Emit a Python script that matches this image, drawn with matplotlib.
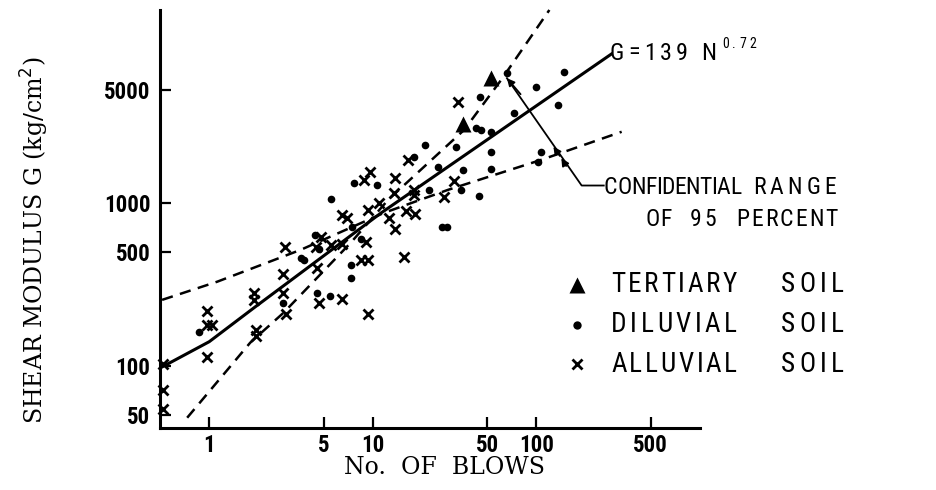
import matplotlib
matplotlib.use("Agg")
import matplotlib.pyplot as plt
from matplotlib import font_manager
from matplotlib.lines import Line2D
from matplotlib.ticker import NullLocator

# values (N = blow count, G in kg/cm2)
tert_n = [35.5, 53.0]
tert_g = [3090, 5900]

dil_n = [0.86, 2.83, 4.41, 4.66, 3.62, 3.79, 8.44, 7.33, 7.33, 4.58, 5.45, 5.52, 7.68,
         10.6, 7.51, 17.9, 20.8, 24.9, 32.3, 35.5, 22.1, 34.7, 26.5, 28.4, 44.3, 44.9,
         42.9, 46.0, 53.0, 52.4, 52.4, 66.4, 100, 148, 73.0, 135, 107, 102]
dil_g = [161, 245, 641, 523, 460, 450, 603, 419, 350, 283, 270, 1063, 1333,
         1297, 721, 1927, 2294, 1687, 2239, 1611, 1212, 1212, 718, 718, 1114, 4550,
         2904, 2838, 2770, 2085, 1626, 6340, 5240, 6430, 3620, 4045, 2085, 1786]

all_n = [0.52, 0.52, 0.52, 0.97, 0.97, 1.04, 0.97, 1.87, 1.89, 1.92, 1.94, 2.90, 2.83,
         2.83, 2.93, 4.80, 4.47, 5.52, 6.52, 9.06, 4.58, 8.44, 9.28, 4.68, 6.52, 9.28,
         15.4, 13.7, 15.9, 18.1, 12.6, 10.9, 9.32, 6.52, 6.93, 9.62, 8.85, 13.7, 13.5,
         16.3, 17.9, 17.9, 27.4, 31.3, 33.1]
all_g = [103, 71, 54, 218, 179, 179, 113, 283, 255, 167, 153, 543, 367,
         283, 209, 621, 543, 556, 562, 583, 400, 450, 450, 244, 258, 209,
         468, 695, 900, 863, 812, 1004, 913, 851, 812, 1564, 1397, 1432, 1157,
         1854, 1212, 1130, 1102, 1377, 4236]

# fitted curve G = 139 N^0.72 as drawn
fit_n = [0.5, 1.0, 1.9, 3.2, 11.2, 292]
fit_g = [97, 141, 230, 340, 872, 8400]

# 95 % confidence lines
flat_n = [0.515, 1.12, 3.62, 11.7, 28.8, 107, 332]
flat_g = [255, 330, 518, 875, 1212, 1854, 2760]
steep_n = [0.733, 1.78, 2.84, 7.33, 12.4, 36.2, 61, 120]
steep_g = [48, 139, 212, 573, 1052, 2838, 5770, 15500]

x_ticks = [1, 5, 10, 50, 100, 500]
y_ticks = [50, 100, 500, 1000, 5000]

have = {f.name for f in font_manager.fontManager.ttflist}
cond = next(f for f in ['Roboto Condensed', 'Liberation Sans Narrow', 'DejaVu Sans Condensed',
                        'Liberation Sans', 'DejaVu Sans'] if f in have)
serif = 'DejaVu Serif'

W, H = 937, 490
fig = plt.figure(figsize=(W / 100, H / 100), dpi=100)
ax = fig.add_axes([160 / W, 1 - 428 / H, 540 / W, 418 / H])
rend = fig.canvas.get_renderer()

def fx(px):
    return px / W

def fy(py):
    return 1 - py / H

def spread(s, x0, x1, y, size):
    # letter-spaced lettering running from pixel x0 to x1
    if len(s) == 1:
        fig.text(fx((x0 + x1) / 2), fy(y), s, family=cond, size=size, ha='center', va='center')
        return
    ts = [fig.text(0, fy(y), c, family=cond, size=size, ha='left', va='center') for c in s]
    ws = [t.get_window_extent(rend).width for t in ts]
    gap = (x1 - x0 - sum(ws)) / (len(s) - 1)
    x = x0
    for t, w in zip(ts, ws):
        t.set_x(fx(x))
        x += w + gap

ax.plot(fit_n, fit_g, color='black', lw=2.2, solid_capstyle='butt')
ax.plot(flat_n, flat_g, color='black', lw=1.8, dashes=(4.5, 3))
ax.plot(steep_n, steep_g, color='black', lw=1.8, dashes=(4.5, 3), clip_on=False)

ax.plot(dil_n, dil_g, 'o', color='black', ms=5.5, mec='none', clip_on=False)
ax.plot(all_n, all_g, 'x', color='black', ms=6.5, mew=2, clip_on=False)
ax.plot(tert_n, tert_g, '^', color='black', ms=12, mec='none', clip_on=False)

ax.set_xscale('log')
ax.set_yscale('log')
ax.set_xlim(0.5, 1000)
ax.set_ylim(41.5, 15500)
ax.set_xticks(x_ticks, labels=[str(t) for t in x_ticks])
ax.set_yticks(y_ticks, labels=[str(t) for t in y_ticks])
ax.xaxis.set_minor_locator(NullLocator())
ax.yaxis.set_minor_locator(NullLocator())
ax.tick_params(direction='in', length=8, width=1.6, pad=7, labelsize=16.5)
ax.tick_params(axis='x', pad=4)
for lab in ax.get_xticklabels() + ax.get_yticklabels():
    lab.set_family(cond)
    lab.set_weight('bold')
for s in ['top', 'right']:
    ax.spines[s].set_visible(False)
ax.spines['left'].set_linewidth(2.2)
ax.spines['bottom'].set_linewidth(2.2)
ax.patch.set_alpha(0)

# arrow to the confidence lines
ax.plot([66, 189, 258], [5900, 1289, 1289], color='black', lw=1.3, clip_on=False)
arw = dict(arrowstyle='-|>', color='black', lw=1.3, mutation_scale=11, shrinkA=0, shrinkB=0)
ax.annotate('', xy=(66, 5900), xytext=(80, 4700), arrowprops=arw)
ax.annotate('', xy=(127, 2240), xytext=(139, 1960), arrowprops=arw)
ax.annotate('', xy=(142, 1901), xytext=(152, 1700), arrowprops=arw)

# lettering
spread('G=139', 610, 688, 53, 17.5)
spread('N', 702, 716, 53, 17.5)
spread('0.72', 722, 756, 44, 10)
spread('CONFIDENTIAL', 604, 741, 188, 17)
spread('RANGE', 753, 836, 188, 17)
spread('OF', 646, 672, 219, 17)
spread('95', 690, 716, 219, 17)
spread('PERCENT', 736, 838, 219, 17)

leg = [('^', 12, 'TERTIARY', 285), ('o', 6, 'DILUVIAL', 325), ('x', 7, 'ALLUVIAL', 364)]
for mk, ms, name, py in leg:
    fig.add_artist(Line2D([fx(577)], [fy(py)], marker=mk, ms=ms, color='black',
                          mew=2, mec='black' if mk == 'x' else 'none', ls='none'))
    spread(name, 611, 737, py, 19.5)
    spread('SOIL', 781, 844, py, 19.5)

fig.text(fx(445), fy(467), 'No.  OF  BLOWS', family=serif, size=17, ha='center', va='center')
fig.text(fx(35), fy(240), 'SHEAR MODULUS G (kg/cm$^2$)', family=serif, size=17,
         rotation=90, ha='center', va='center')

fig.savefig('out.png', dpi=100)
